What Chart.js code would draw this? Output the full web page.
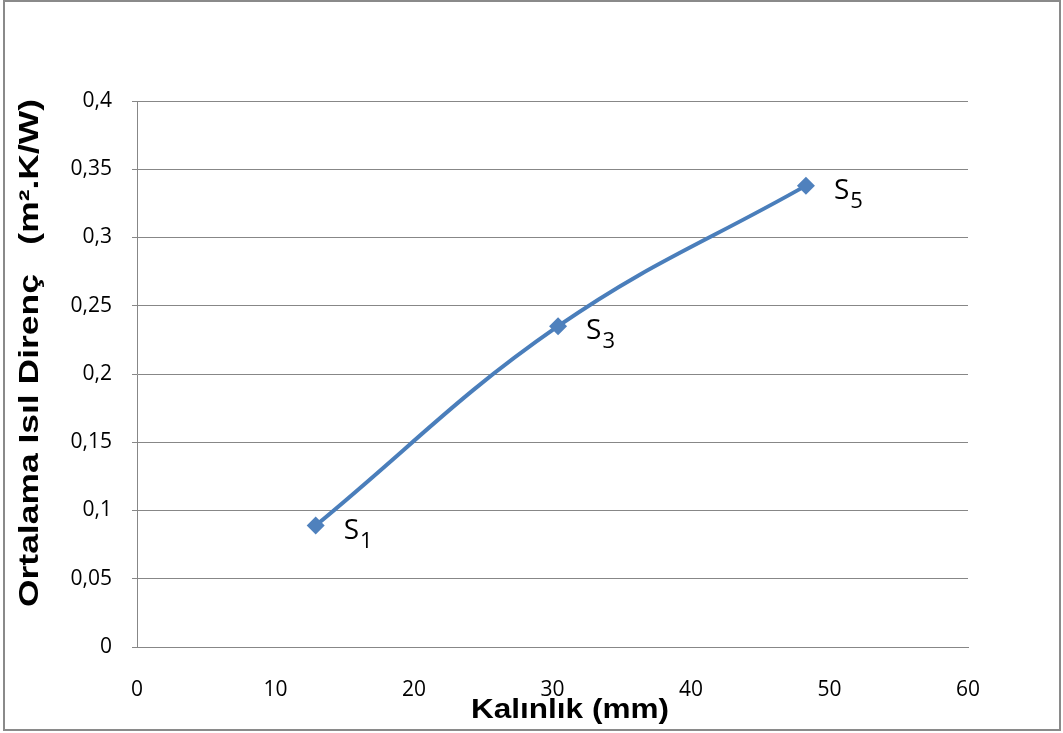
<!DOCTYPE html>
<html>
<head>
<meta charset="utf-8">
<script src="https://cdn.jsdelivr.net/npm/chart.js@4/dist/chart.umd.min.js"></script>
<style>
  body { margin: 0; background: #fff; }
  #wrap { width: 1063px; height: 733px; }
</style>
</head>
<body>
<div id="wrap"><canvas id="chart" width="1063" height="733"></canvas></div>
<script>
// thickness (mm) and mean thermal resistance (m2.K/W)
const thickness = [12.9, 30.4, 48.3];
const resistance = [0.089, 0.235, 0.338];
const pointNames = ['1', '3', '5'];   // subscripts for S labels

const xTitle = 'Kalınlık (mm)';
const yTitle = 'Ortalama Isıl Direnç   (m².K/W)';

const lineColor = '#4a7ebb';
const gridColor = '#878787';
const tickFont = { family: '"Open Sans", "Noto Sans", sans-serif', size: 21 };

// draw text squeezed/stretched to a given width
function fitText(ctx, text, width) {
    const w = ctx.measureText(text).width;
    ctx.scale(width / w, 1);
    ctx.fillText(text, 0, 0);
}

// draws frame, axis titles and the S labels
const extras = {
    id: 'extras',
    beforeDraw(chart) {
        const ctx = chart.ctx;
        ctx.save();
        ctx.fillStyle = '#fff';
        ctx.fillRect(0, 0, chart.width, chart.height);
        ctx.strokeStyle = '#8a8a8a';
        ctx.lineWidth = 2;
        ctx.strokeRect(4, 1, 1056, 729);
        ctx.restore();
    },
    afterDraw(chart) {
        const ctx = chart.ctx;
        const xs = chart.scales.x, ys = chart.scales.y;
        ctx.save();
        ctx.fillStyle = '#000';
        ctx.font = 'bold 27px "Liberation Sans", Arial';
        ctx.textAlign = 'center';
        ctx.textBaseline = 'alphabetic';
        ctx.save();
        ctx.translate(570, 718);
        fitText(ctx, xTitle, 198);
        ctx.restore();
        ctx.translate(38, 353);
        ctx.rotate(-Math.PI / 2);
        fitText(ctx, yTitle, 508);
        ctx.restore();

        ctx.save();
        ctx.fillStyle = '#000';
        ctx.textBaseline = 'alphabetic';
        ctx.textAlign = 'left';
        thickness.forEach((t, i) => {
            const px = xs.getPixelForValue(t) + 28;
            const py = ys.getPixelForValue(resistance[i]) + 13;
            ctx.font = '28px "Open Sans", "Noto Sans", sans-serif';
            ctx.fillText('S', px, py);
            const w = ctx.measureText('S').width;
            ctx.font = '22px "Open Sans", "Noto Sans", sans-serif';
            ctx.fillText(pointNames[i], px + w + 1, py + 9);
        });
        ctx.restore();
    }
};

new Chart(document.getElementById('chart'), {
    type: 'line',
    data: {
        datasets: [{
            data: thickness.map((t, i) => ({ x: t, y: resistance[i] })),
            borderColor: lineColor,
            backgroundColor: '#4f81bd',
            borderWidth: 4,
            tension: 0.4,
            pointStyle: 'rectRot',
            pointRadius: 9,
            pointBorderWidth: 0,
            fill: false
        }]
    },
    options: {
        responsive: false,
        animation: false,
        layout: { padding: { top: 101, right: 95, bottom: 0, left: 0 } },
        plugins: { legend: { display: false }, tooltip: { enabled: false } },
        scales: {
            x: {
                type: 'linear',
                min: 0, max: 60,
                afterFit: s => { s.height = 86; },
                ticks: {
                    stepSize: 10,
                    padding: 30,
                    color: '#000',
                    font: tickFont
                },
                grid: { display: false, drawTicks: false },
                border: { display: true, color: gridColor, width: 1 }
            },
            y: {
                min: 0, max: 0.4,
                afterFit: s => { s.width = 137; },
                ticks: {
                    stepSize: 0.05,
                    padding: 20,
                    color: '#000',
                    font: tickFont,
                    callback: v => String(Math.round(v * 100) / 100).replace('.', ',')
                },
                grid: { color: gridColor, lineWidth: 1, tickLength: 5 },
                border: { display: true, color: gridColor, width: 1 }
            }
        }
    },
    plugins: [extras]
});
</script>
</body>
</html>
